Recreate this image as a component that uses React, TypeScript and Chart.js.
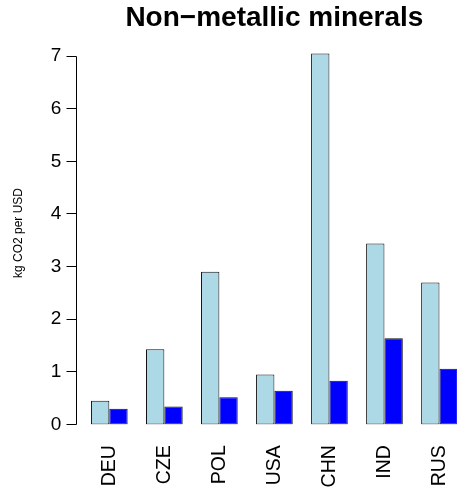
import React, { useEffect, useRef } from 'react';
import { Chart, registerables } from 'chart.js';

Chart.register(...registerables);

const categories = ['DEU', 'CZE', 'POL', 'USA', 'CHN', 'IND', 'RUS'];
const seriesLight = [0.45, 1.43, 2.9, 0.95, 7.05, 3.44, 2.7];
const seriesDark = [0.3, 0.34, 0.52, 0.64, 0.83, 1.64, 1.06];
const yTicks = [0, 1, 2, 3, 4, 5, 6, 7];
const yMax = 7.276;

const titleText = 'Non\u2212metallic minerals';
const yTitle = 'kg CO2 per USD';

const FONT = '"Liberation Sans", Arial, Helvetica, sans-serif';

export default function App() {
  const ref = useRef<HTMLCanvasElement>(null);

  useEffect(() => {
    const canvas = ref.current;
    if (!canvas) return;

    const rAxis = {
      id: 'rAxis',
      afterDatasetsDraw(chart: any) {
        const { ctx, chartArea, scales } = chart;
        const ys = scales.y;
        const unit = chartArea.width / categories.length / 3;
        const x = Math.round(chartArea.left - 0.3 * unit) + 0.5;
        const top = Math.floor(ys.getPixelForValue(yTicks[yTicks.length - 1])) + 0.5;
        const bot = Math.floor(ys.getPixelForValue(yTicks[0])) + 0.5;
        ctx.save();
        ctx.strokeStyle = '#000';
        ctx.lineWidth = 1;
        ctx.beginPath();
        ctx.moveTo(x, top);
        ctx.lineTo(x, bot);
        for (const v of yTicks) {
          const py = Math.floor(ys.getPixelForValue(v)) + 0.5;
          ctx.moveTo(x - 10, py);
          ctx.lineTo(x, py);
        }
        ctx.stroke();
        ctx.restore();
      },
    };

    const chart = new Chart(canvas, {
      type: 'bar',
      data: {
        labels: categories,
        datasets: [
          {
            data: seriesLight,
            backgroundColor: '#ADD8E6',
            borderColor: '#111111',
            borderWidth: 1,
            borderSkipped: false,
            categoryPercentage: 2 / 3,
            barPercentage: 1,
          },
          {
            data: seriesDark,
            backgroundColor: '#0000FF',
            borderColor: '#111111',
            borderWidth: 1,
            borderSkipped: false,
            categoryPercentage: 2 / 3,
            barPercentage: 1,
          },
        ],
      },
      options: {
        responsive: false,
        maintainAspectRatio: false,
        animation: false,
        layout: { padding: 0 },
        plugins: {
          legend: { display: false },
          tooltip: { enabled: false },
          title: {
            display: true,
            text: titleText,
            fullSize: false,
            color: '#000',
            font: { family: FONT, size: 28, weight: 'bold', lineHeight: 1.2 },
            padding: { top: 1.8, bottom: 6.1 },
          },
        },
        scales: {
          x: {
            grid: { display: false, drawTicks: false, tickLength: 0 },
            border: { display: false },
            ticks: {
              color: '#000',
              font: { family: FONT, size: 19.5 },
              minRotation: 90,
              maxRotation: 90,
              autoSkip: false,
              padding: 20.7,
            },
            afterFit: (scale: any) => {
              scale.height = 494 - 424.5;
              scale.paddingLeft = 0;
              scale.paddingRight = 0;
            },
          },
          y: {
            min: 0,
            max: yMax,
            grid: { display: false, drawTicks: false, tickLength: 0 },
            border: { display: false },
            ticks: {
              color: '#000',
              font: { family: FONT, size: 19 },
              padding: 20.5,
            },
            afterBuildTicks: (scale: any) => {
              scale.ticks = yTicks.map((v) => ({ value: v }));
            },
            afterFit: (scale: any) => {
              scale.width = 81.8;
              scale.paddingTop = 0;
              scale.paddingBottom = 0;
            },
            title: {
              display: true,
              text: yTitle,
              color: '#000',
              font: { family: FONT, size: 12, lineHeight: 1.2 },
              padding: { top: 11, bottom: 0 },
            },
          },
        },
      },
      plugins: [rAxis],
    });

    return () => chart.destroy();
  }, []);

  return (
    <div
      style={{
        position: 'fixed',
        left: 0,
        top: 0,
        width: 457,
        height: 494,
        overflow: 'hidden',
        background: '#fff',
      }}
    >
      <canvas ref={ref} width={467} height={494} style={{ display: 'block' }} />
    </div>
  );
}
